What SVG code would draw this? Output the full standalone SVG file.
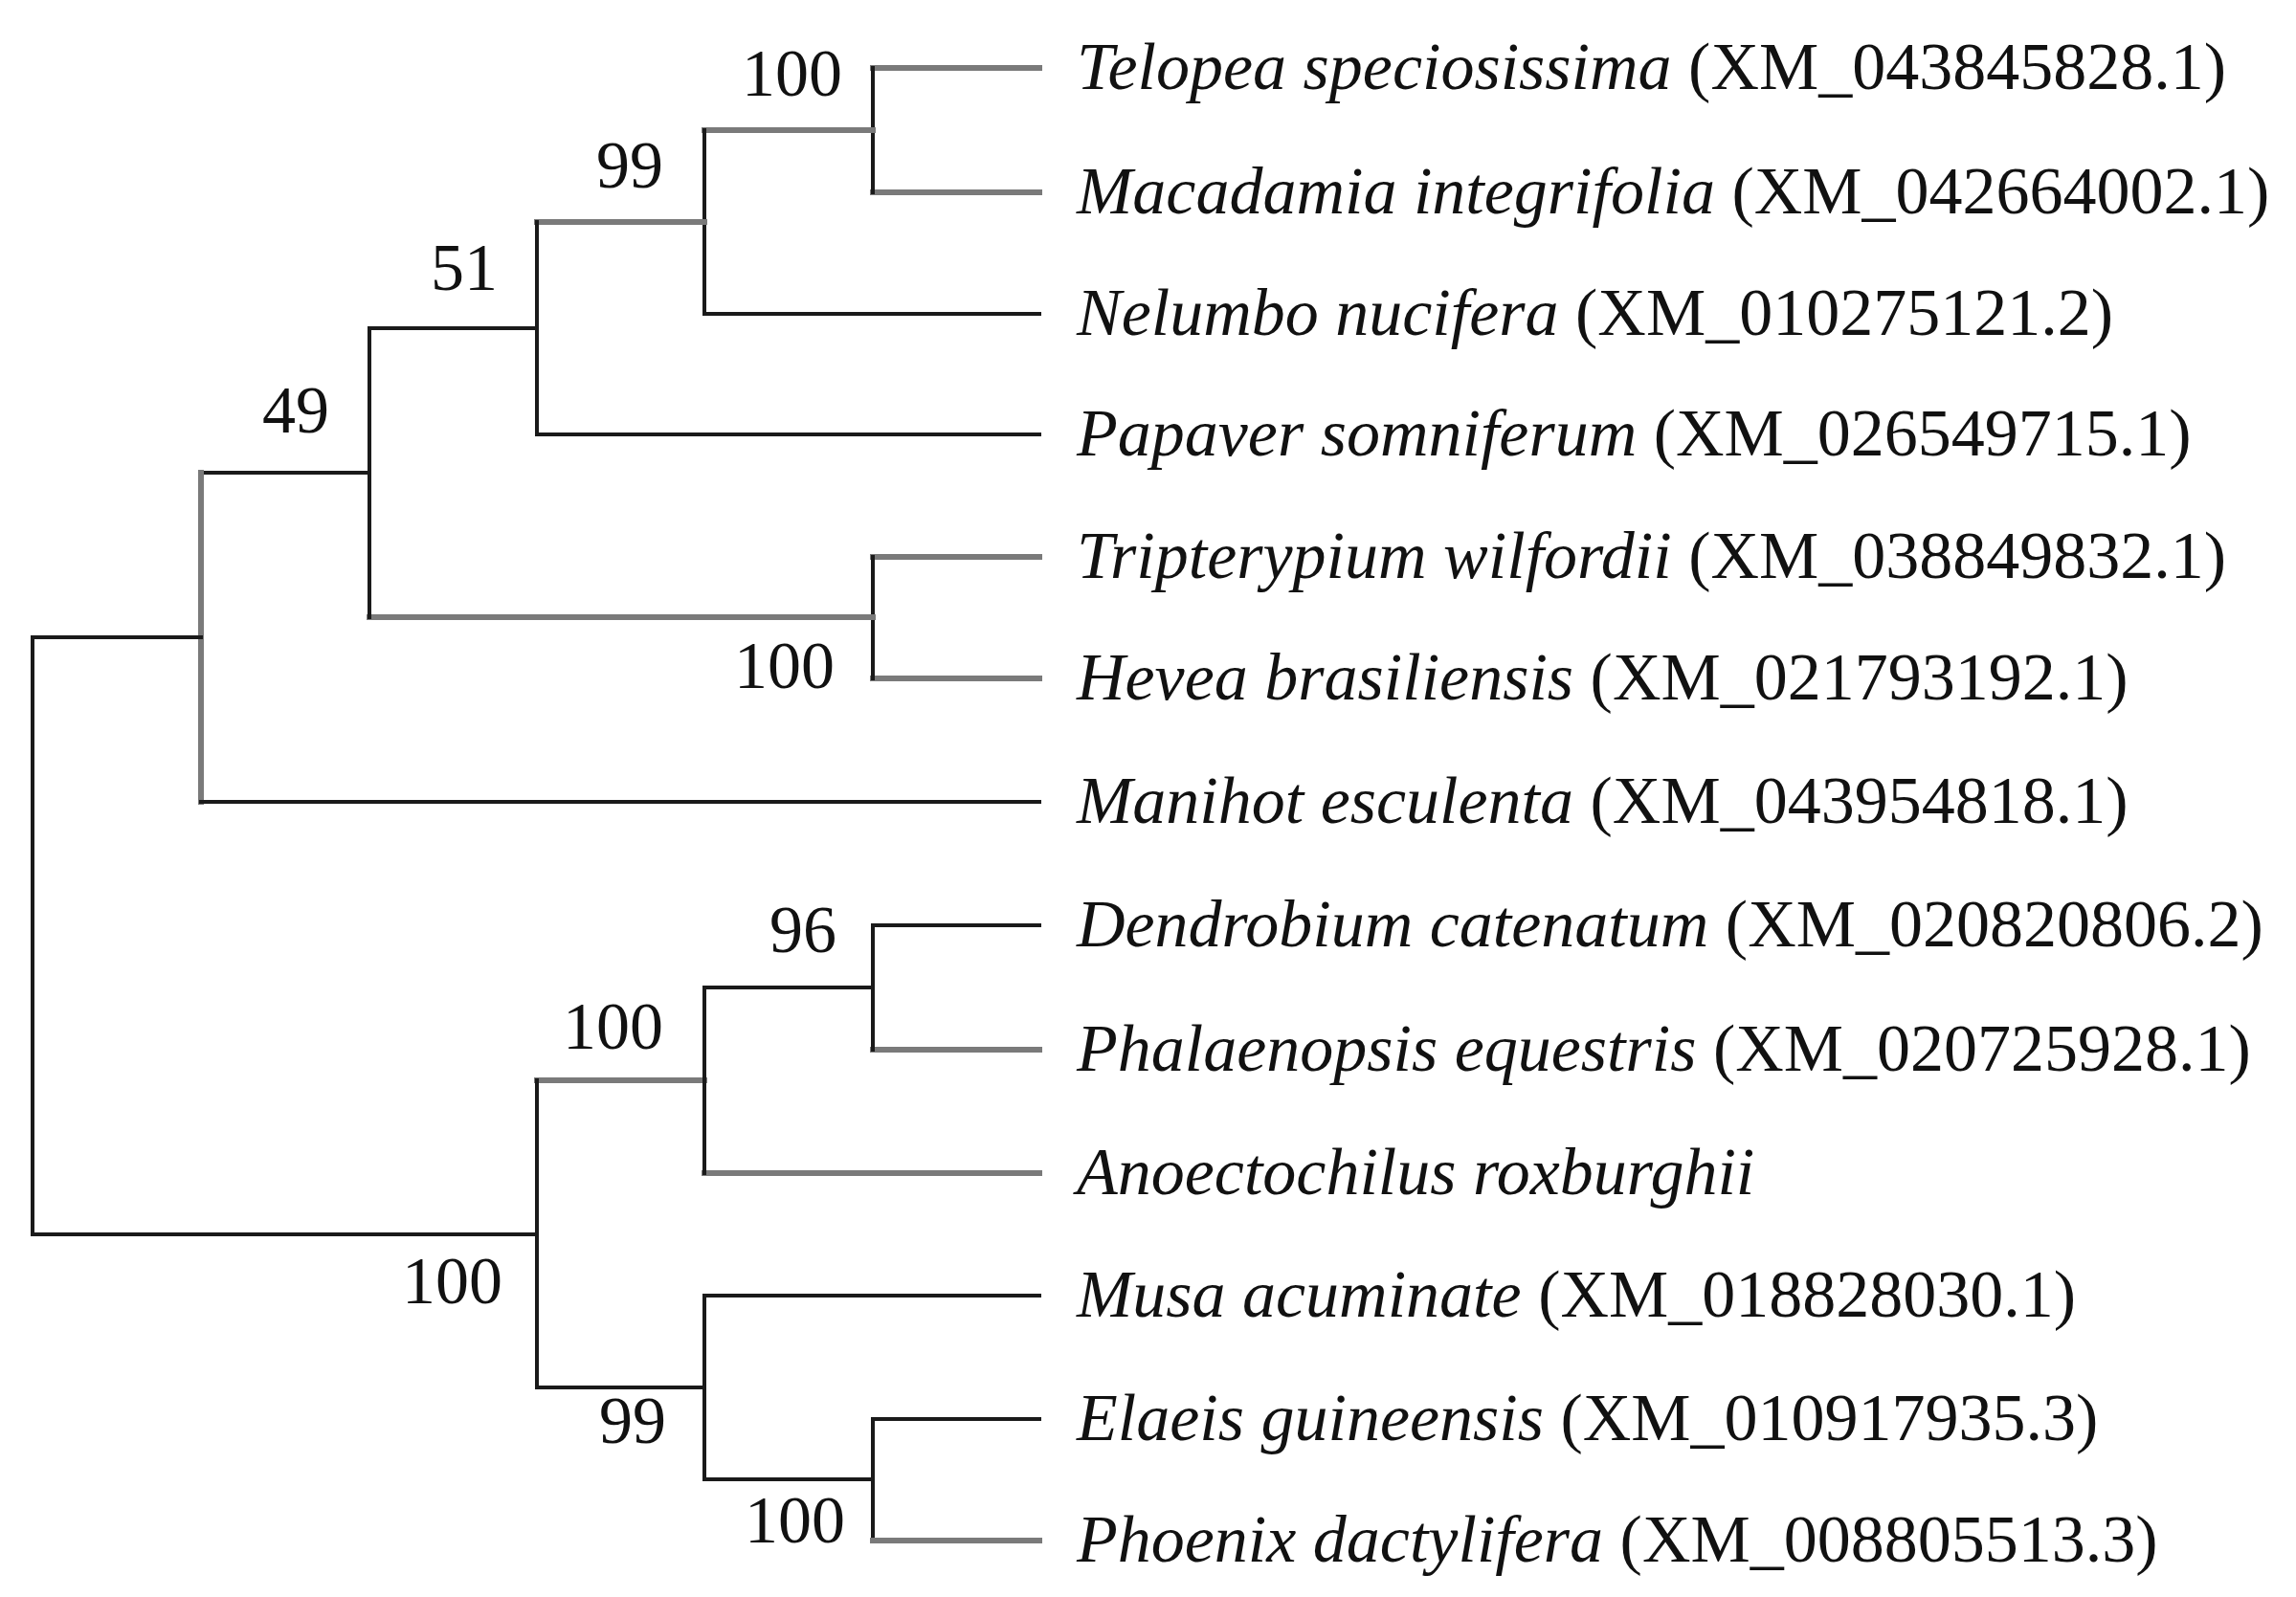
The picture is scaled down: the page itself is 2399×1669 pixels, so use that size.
<svg xmlns="http://www.w3.org/2000/svg" width="2399" height="1669" viewBox="0 0 2399 1669">
<style>
.k{stroke:#1a1a1a;stroke-width:4;fill:none;stroke-linecap:square}
.g{stroke:#7a7a7a;stroke-width:6;fill:none;stroke-linecap:square}
text{font-family:"Liberation Serif","Times New Roman",serif;font-size:70px;fill:#111}
.b{text-anchor:end}
.i{font-style:italic}
</style>
<rect width="2399" height="1669" fill="#fff"/>
<g id="connectors">
<path class="g" d="M912 71H1086M912 201H1086"/>
<path class="k" d="M912 71V201"/>
<path class="g" d="M736 136H912"/>
<path class="k" d="M736 136V328H1086"/>
<path class="g" d="M561 232H736"/>
<path class="k" d="M561 232V454H1086"/>
<path class="g" d="M912 582H1086M912 709H1086"/>
<path class="k" d="M912 582V709"/>
<path class="g" d="M386 645H912"/>
<path class="k" d="M386 343V645M386 343H561"/>
<path class="k" d="M210 494H386"/>
<path class="g" d="M210 494V838"/>
<path class="k" d="M210 838H1086"/>
<path class="k" d="M34 666H210M34 666V1290H561"/>
<path class="k" d="M912 967H1086"/>
<path class="g" d="M912 1097H1086"/>
<path class="k" d="M912 967V1097M736 1032H912"/>
<path class="g" d="M736 1226H1086M561 1129H736"/>
<path class="k" d="M736 1032V1226"/>
<path class="k" d="M736 1354H1086M736 1354V1546M561 1129V1450H736"/>
<path class="k" d="M912 1483H1086M912 1483V1610M736 1546H912"/>
<path class="g" d="M912 1610H1086"/>
</g>
<g id="bootstrap">
<text class="b" x="880" y="100">100</text>
<text class="b" x="693" y="196">99</text>
<text class="b" x="520" y="303">51</text>
<text class="b" x="344" y="452">49</text>
<text class="b" x="872" y="719">100</text>
<text class="b" x="874" y="995">96</text>
<text class="b" x="693" y="1096">100</text>
<text class="b" x="525" y="1362">100</text>
<text class="b" x="696" y="1508">99</text>
<text class="b" x="883" y="1612">100</text>
</g>
<g id="leaves">
<text x="1125" y="93"><tspan class="i">Telopea speciosissima</tspan> (XM_043845828.1)</text>
<text x="1125" y="223"><tspan class="i">Macadamia integrifolia</tspan> (XM_042664002.1)</text>
<text x="1125" y="350"><tspan class="i">Nelumbo nucifera</tspan> (XM_010275121.2)</text>
<text x="1125" y="476"><tspan class="i">Papaver somniferum</tspan> (XM_026549715.1)</text>
<text x="1125" y="604"><tspan class="i">Tripterypium wilfordii</tspan> (XM_038849832.1)</text>
<text x="1125" y="731"><tspan class="i">Hevea brasiliensis</tspan> (XM_021793192.1)</text>
<text x="1125" y="860"><tspan class="i">Manihot esculenta</tspan> (XM_043954818.1)</text>
<text x="1125" y="989"><tspan class="i">Dendrobium catenatum</tspan> (XM_020820806.2)</text>
<text x="1125" y="1119"><tspan class="i">Phalaenopsis equestris</tspan> (XM_020725928.1)</text>
<text x="1125" y="1248"><tspan class="i">Anoectochilus roxburghii</tspan></text>
<text x="1125" y="1376"><tspan class="i">Musa acuminate</tspan> (XM_018828030.1)</text>
<text x="1125" y="1505"><tspan class="i">Elaeis guineensis</tspan> (XM_010917935.3)</text>
<text x="1125" y="1632"><tspan class="i">Phoenix dactylifera</tspan> (XM_008805513.3)</text>
</g>
</svg>
